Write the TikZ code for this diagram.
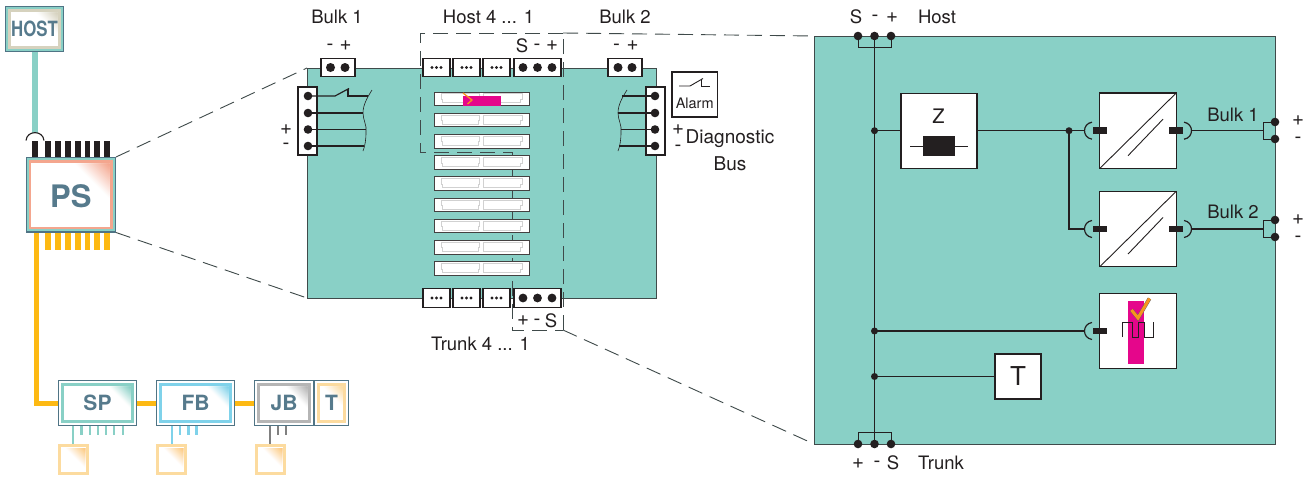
\documentclass[tikz,border=0pt]{standalone}
\usepackage{fontspec}
\setmainfont{TeX Gyre Heros}
\definecolor{ink}{HTML}{231F20}
\definecolor{panel}{HTML}{89D0C6}
\definecolor{steel}{HTML}{4F7485}
\definecolor{txtblue}{HTML}{567A8C}
\definecolor{bus}{HTML}{FDB913}
\definecolor{pink}{HTML}{E5068B}
\definecolor{tick}{HTML}{F7941D}
\definecolor{salmon}{HTML}{F4A68E}
\definecolor{beige}{HTML}{D6D2BE}
\definecolor{sky}{HTML}{7FD2EA}
\definecolor{midgray}{HTML}{B5B5B5}
\definecolor{sand}{HTML}{FCDB9F}
\definecolor{edge}{HTML}{3F4A4A}
\tikzset{
  x=1pt,y=-1pt,
  every node/.style={inner sep=0pt,outer sep=0pt},
  lab/.style={font=\fontsize{18.5}{20}\selectfont,text=ink},
  sym/.style={font=\fontsize{20.5}{22}\selectfont,text=ink},
  wire/.style={draw=ink,line width=1.2pt},
  thinwire/.style={draw=ink,line width=.9pt},
  whitebox/.style={draw=ink,line width=1.1pt,fill=white},
  conn/.style={draw=ink,line width=1.1pt,fill=white,minimum height=18.5pt},
  bigdot/.style={circle,fill=ink,minimum size=8.6pt},
  juncdot/.style={circle,fill=ink,minimum size=7pt},
  tinydot/.style={circle,fill=ink,minimum size=3.4pt},
  tab/.style={fill=ink,minimum width=14pt,minimum height=6.5pt},
  dashline/.style={draw=edge,line width=.9pt,dash pattern=on 15pt off 8pt},
  slotbox/.style={draw=ink!85,line width=.9pt,fill=white,minimum width=95pt,minimum height=13.5pt},
  modtext/.style={font=\bfseries,text=txtblue},
}
\newcommand\cornergrad[4]{% x1,y0,size,colour
  \foreach \i in {0,...,19}{
    \pgfmathsetmacro\ff{1-\i/20}
    \pgfmathsetmacro\pp{(\i+1)*5}
    \fill[#4!\pp!white] (#1-#3*\ff,#2) -- (#1,#2) -- (#1,#2+#3*\ff) -- cycle;
  }
}
% name, x0,y0,x1,y1, ring colour, accent colour, corner size, node style
\newcommand\modbox[9]{%
  \fill[steel] (#2,#3) rectangle (#4,#5);
  \fill[#6] (#2+1.2,#3+1.2) rectangle (#4-1.2,#5-1.2);
  \fill[#7] (#2+3.2,#3+3.2) rectangle (#4-3.2,#5-3.2);
  \fill[white] (#2+5.6,#3+5.6) rectangle (#4-5.6,#5-5.6);
  \cornergrad{#4-6.5}{#3+6.5}{#8}{#7}
  \node[#9] (#1) at ({(#2+#4)/2},{(#3+#5)/2}) {\modlabel};
}
\newcommand\sensorbox[3]{% name,x0,y0
  \fill[sand] (#2,#3) rectangle (#2+31,#3+31);
  \fill[white] (#2+2.8,#3+2.8) rectangle (#2+28.2,#3+28.2);
  \cornergrad{#2+27}{#3+4}{19}{sand!80!orange}
  \node (#1) at (#2+15.5,#3+15.5) {};
}
\newcommand\leftcup[2]{\draw[wire] (#1+8,#2-8.5) .. controls (#1-2,#2-7) and (#1-2,#2+7) .. (#1+8,#2+8.5);}
\newcommand\rightcup[2]{\draw[wire] (#1-8,#2-8.5) .. controls (#1+2,#2-7) and (#1+2,#2+7) .. (#1-8,#2+8.5);}
\begin{document}
\begin{tikzpicture}
\useasboundingbox (0,0) rectangle (1314,477);
\fill[white] (0,0) rectangle (1314,477);

% ---------- left overview: buses
\coordinate (hostfoot) at (35,133);
\coordinate (busbend) at (36,403);
\draw[panel,line width=5.5pt] (35,52) -- (hostfoot);
\draw[ink,line width=1.1pt] (26,140.5) .. controls (27,130) and (43,130) .. (44,140.5);
\foreach \x in {35,48,58,68,78,87.5,97,107} \fill[ink] (\x-2.7,141) rectangle (\x+2.7,157);
\foreach \x in {48,58,68,78,87.5,97,107} \fill[bus] (\x-2.7,232) rectangle (\x+2.7,250);
\draw[bus,line width=5pt] (36,232) -- (busbend) -- (58,403);
\draw[bus,line width=5pt] (137,403) -- (156,403);
\draw[bus,line width=5pt] (235,403) -- (254,403);

\def\modlabel{\scalebox{.8}[1]{\fontsize{21}{22}\selectfont HOST}}
\modbox{host}{5}{6}{64}{52}{panel}{beige}{21}{modtext}
\def\modlabel{\fontsize{31}{32}\selectfont PS}
\modbox{ps}{25.5}{157}{116}{232.5}{panel}{salmon}{34}{modtext,yshift=-1.5pt}
\def\modlabel{\fontsize{21}{22}\selectfont SP}
\modbox{sp}{58}{380}{137}{426}{white}{panel}{21}{modtext}
\def\modlabel{\fontsize{21}{22}\selectfont FB}
\modbox{fb}{156}{380}{235}{426}{white}{sky}{21}{modtext}
\def\modlabel{\fontsize{21}{22}\selectfont JB}
\modbox{jb}{254}{380}{314}{426}{white}{midgray}{21}{modtext}
\def\modlabel{\fontsize{21}{22}\selectfont T}
\modbox{tb}{314}{380}{349}{426}{white}{sand}{19}{modtext}
\coordinate (psne) at (116,157);
\coordinate (psse) at (116,232.5);

\foreach \x in {81.5,90,98,106,114,123} \draw[panel,line width=2.6pt] (\x,426) -- (\x,435);
\foreach \x in {180,188.5,196.5} \draw[sky,line width=2.6pt] (\x,426) -- (\x,435);
\foreach \x in {278,286} \draw[gray,line width=2.6pt] (\x,426) -- (\x,435);
\sensorbox{s1}{58}{444}
\sensorbox{s2}{156}{444}
\sensorbox{s3}{255}{444}
\draw[panel,line width=2.6pt] (73,426) -- (73,444);
\draw[sky,line width=2.6pt] (172,426) -- (172,444);
\draw[gray,line width=2.6pt] (270,426) -- (270,444);

% ---------- middle block
\node[draw=edge,line width=.9pt,fill=panel,minimum width=349pt,minimum height=230pt] (mid) at (481.5,183) {};

% zoom lines
\draw[dashline] (psne) -- (mid.north west);
\draw[dashline] (psse) -- (mid.south west);

% dashed frame (below the slots)
\coordinate (fa) at (420,33);
\coordinate (fb) at (420,152);
\coordinate (fc) at (512,152);
\coordinate (fd) at (512,330);
\coordinate (fe) at (563,330);
\coordinate (ff) at (563,33);
\draw[dashline] (ff) -- (fa) -- (fb) -- (fc) -- (fd) -- (fe);

% slots
\foreach \i in {0,...,8}{
  \node[slotbox] (slot\i) at (481.5,{98.8+21.22*\i}) {};
  \draw[black!18,line width=.8pt] ([shift={(-40.5,-5)}]slot\i.center) -- ++(38.5,0) -- ++(0,5.5) -- ++(-1.5,0) -- ++(0,3.5) -- ++(-35.5,0) -- ++(0,-3.5) -- ++(-1.5,0) -- cycle;
  \draw[black!18,line width=.8pt] ([shift={(2,-5)}]slot\i.center) -- ++(38.5,0) -- ++(0,5.5) -- ++(-1.5,0) -- ++(0,3.5) -- ++(-37,0) -- cycle;
}
\fill[pink] (463,96) rectangle (501,105.5);
\draw[tick,line width=1.3pt] (463,93) -- (472,100) -- (467.5,104);

% connectors on the top and bottom edges
\node[conn,minimum width=34pt] (bulka) at (338,67.5) {};
\node[tinydot,minimum size=9pt] (ba1) at (330.5,67.5) {};
\node[tinydot,minimum size=9pt] (ba2) at (345,67.5) {};
\node[conn,minimum width=34pt] (bulkb) at (625,67.5) {};
\node[tinydot,minimum size=9pt] (bb1) at (618,67.5) {};
\node[tinydot,minimum size=9pt] (bb2) at (632,67.5) {};
\foreach \yy/\nm in {67.5/t,298/b}{
  \foreach \cx/\k in {436.5/1,466.5/2,496.5/3}{
    \node[conn,minimum width=27pt] (c\nm\k) at (\cx,\yy) {};
    \foreach \dx in {-4.5,0,4.5} \fill[ink] (\cx+\dx,\yy) circle (1.7);
  }
  \node[conn,minimum width=47pt] (c\nm4) at (537.5,\yy) {};
  \foreach \cx in {523,537.5,552} \fill[ink] (\cx,\yy) circle (4.4);
}
\draw[dashline] (fe) -- (ff);

% side terminals
\node[whitebox,minimum width=19pt,minimum height=68pt] (tl) at (307.5,121) {};
\node[whitebox,minimum width=19pt,minimum height=68pt] (tr) at (655.5,121) {};
\foreach \y/\k in {96/1,113/2,129.5/3,146/4}{
  \node[bigdot] (tl\k) at (308,\y) {};
  \node[bigdot] (tr\k) at (655,\y) {};
}
\coordinate (sw1) at (335,96);
\coordinate (sw2) at (349,88.5);
\coordinate (sw3) at (348,96);
\coordinate (sw4) at (368,96);
\draw[wire] (tl1.center) -- (sw1) -- (sw2);
\draw[wire] (sw2) ++(-1,0) -- (sw3) -- (sw4);
\foreach \k/\ex in {2/363,3/366,4/364}{
  \draw[wire] (tl\k.center) -- (\ex,0 |- tl\k.center);
}
\draw[ink,line width=.6pt] (372,90) .. controls (367,98) and (363,105) .. (363,113) .. controls (363,120) and (367,125) .. (366,132) .. controls (366,140) and (365,146) .. (363,151);
\foreach \k/\ex in {1/622,2/618,3/621,4/619}{
  \draw[wire] (tr\k.center) -- (\ex,0 |- tr\k.center);
}
\draw[ink,line width=.6pt] (627,90) .. controls (622,98) and (618,105) .. (618,113) .. controls (618,120) and (622,125) .. (621,132) .. controls (621,140) and (620,146) .. (618,151);

% alarm
\node[whitebox,minimum width=45.5pt,minimum height=45pt] (alarm) at (694.7,94.5) {};
\node[font=\fontsize{14.5}{15}\selectfont,text=ink] (alarmt) at (694.7,103.5) {Alarm};
\coordinate (al1) at (679,86);
\coordinate (al2) at (690,86);
\coordinate (al3) at (703,78.5);
\coordinate (al4) at (701,86);
\coordinate (al5) at (710,86);
\draw[ink,line width=.9pt] (al1) -- (al2) -- (al3);
\draw[ink,line width=.9pt] (701,78.5) -- (al4) -- (al5);

% middle labels
\node[lab] (lbulka) at (337,17) {Bulk 1};
\node[lab] (lhost) at (488.5,17) {Host 4 ... 1};
\node[lab] (lbulkb) at (625,17) {Bulk 2};
\node[sym] (la1) at (330,47) {-};
\node[sym] (la2) at (345.5,46) {+};
\node[lab] (lh1) at (522,45.5) {S};
\node[sym] (lh2) at (537,47) {-};
\node[sym] (lh3) at (552,46) {+};
\node[sym] (lb1) at (616.5,47) {-};
\node[sym] (lb2) at (632.5,46) {+};
\node[sym] (lt1) at (523,321) {+};
\node[sym] (lt2) at (537,322) {-};
\node[lab] (lt3) at (551,320.5) {S};
\node[lab] (ltrunk) at (480.5,344) {Trunk 4 ... 1};
\node[sym] (lpl) at (286,130) {+};
\node[sym] (lml) at (286,146) {-};
\node[sym] (lpr) at (678,129.5) {+};
\node[sym] (lmr) at (678,148) {-};
\node[lab,font=\fontsize{19}{20}\selectfont] (ldiag) at (730,139) {Diagnostic};
\node[lab,font=\fontsize{19}{20}\selectfont] (lbus) at (730,164) {Bus};

% ---------- right block
\node[draw=edge,line width=1pt,fill=panel,minimum width=461pt,minimum height=408pt] (big) at (1044.5,240) {};
\draw[dashline] (ff) -- (big.north west);
\draw[dashline] (fe) -- (big.south west);

\node[bigdot] (hs) at (858,36) {};
\node[bigdot] (hm) at (874.5,36) {};
\node[bigdot] (hp) at (891,36) {};
\node[bigdot] (tp) at (858,444) {};
\node[bigdot] (tm) at (874.5,444) {};
\node[bigdot] (ts) at (891,444) {};
\draw[thinwire] (hs.center) |- (874.5,47.5) -| (hp.center);
\draw[thinwire] (tp.center) |- (874.5,432.7) -| (ts.center);
\draw[wire] (hm.center) -- (tm.center);

\node[whitebox,minimum width=76pt,minimum height=75pt] (z) at (939,130.7) {};
\node[font=\fontsize{20}{22}\selectfont,text=ink] (zt) at (938.5,116) {Z};
\node[fill=ink,minimum width=32pt,minimum height=20pt] (res) at (939,146) {};
\coordinate (resl) at (910,146);
\coordinate (resr) at (968,146);
\draw[thinwire] (resl) -- (res) -- (resr);

\node[whitebox,minimum width=76.5pt,minimum height=75.5pt] (cv1) at (1138,130.7) {};
\node[whitebox,minimum width=76.5pt,minimum height=75.5pt] (cv2) at (1138,229) {};
\node[whitebox,minimum width=76.5pt,minimum height=75.5pt] (diag) at (1138,331) {};
\node[whitebox,minimum width=46pt,minimum height=45pt] (tbox) at (1018,376.5) {};
\node[font=\fontsize{26}{28}\selectfont,text=ink] (tt) at (1018,376.5) {T};

\foreach \b in {cv1,cv2}{
  \draw[thinwire] (\b.south west) -- (\b.north east);
  \draw[thinwire] ([shift={(-10,25)}]\b.center) -- ([shift={(25,-11.5)}]\b.center);
  \node[tab] (\b l) at (\b.west) {};
  \node[tab] (\b r) at (\b.east) {};
}
\node[tab] (diagl) at (diag.west) {};
\fill[pink] (1128,301) rectangle (1144,364);
\draw[ink,line width=1pt] (1122,337) -- (1122,322) -- (1132,322) -- (1132,337) -- (1138,337) -- (1138,322) -- (1144,322) -- (1144,337) -- (1153,337) -- (1153,322);
\draw[ink!70,line width=3.8pt,line join=miter] (1131.5,310) -- (1138,318) -- (1149.5,298.5);
\draw[tick,line width=3pt,line join=miter] (1131.5,310) -- (1138,318) -- (1149.5,298.5);

\node[juncdot] (j1) at (874.5,130.7) {};
\node[juncdot] (j2) at (874.5,331) {};
\node[juncdot] (j3) at (874.5,376.5) {};
\node[juncdot] (j4) at (1069,130.7) {};
\coordinate (cupa) at (1084,130.7);
\coordinate (cupb) at (1084,229);
\coordinate (cupc) at (1084,331);
\coordinate (cupd) at (1192,130.7);
\coordinate (cupe) at (1192,229);
\leftcup{1084}{130.7}
\leftcup{1084}{229}
\leftcup{1084}{331}
\rightcup{1192}{130.7}
\rightcup{1192}{229}
\draw[wire] (j1.center) -- (z.west);
\draw[wire] (z.east) -- (cupa);
\draw[wire] (j4.center) |- (cupb);
\draw[wire] (j2.center) -- (cupc);
\draw[thinwire] (j3.center) -- (tbox.west);

\node[bigdot] (o1p) at (1275,122) {};
\node[bigdot] (o1m) at (1275,139) {};
\node[bigdot] (o2p) at (1275,220) {};
\node[bigdot] (o2m) at (1275,237) {};
\draw[wire] (cupd) -- (1263,130.7);
\draw[wire] (cupe) -- (1263,229);
\draw[thinwire] (o1p.center) -- (1263,122) -- (1263,139) -- (o1m.center);
\draw[thinwire] (o2p.center) -- (1263,220) -- (1263,237) -- (o2m.center);

% right labels
\node[lab] (rs) at (856,17) {S};
\node[sym] (rm) at (875,18.5) {-};
\node[sym] (rp) at (892,18) {+};
\node[lab] (rhost) at (937,17) {Host};
\node[sym] (bp) at (858,464) {+};
\node[sym] (bm) at (877,464.5) {-};
\node[lab] (bs) at (893,463) {S};
\node[lab] (rtrunk) at (941,463) {Trunk};
\node[lab] (rb1) at (1233,115) {Bulk 1};
\node[lab] (rb2) at (1233,212) {Bulk 2};
\node[sym] (op1) at (1298,121) {+};
\node[sym] (om1) at (1298,140) {-};
\node[sym] (op2) at (1298,220) {+};
\node[sym] (om2) at (1298,239) {-};
\end{tikzpicture}
\end{document}
